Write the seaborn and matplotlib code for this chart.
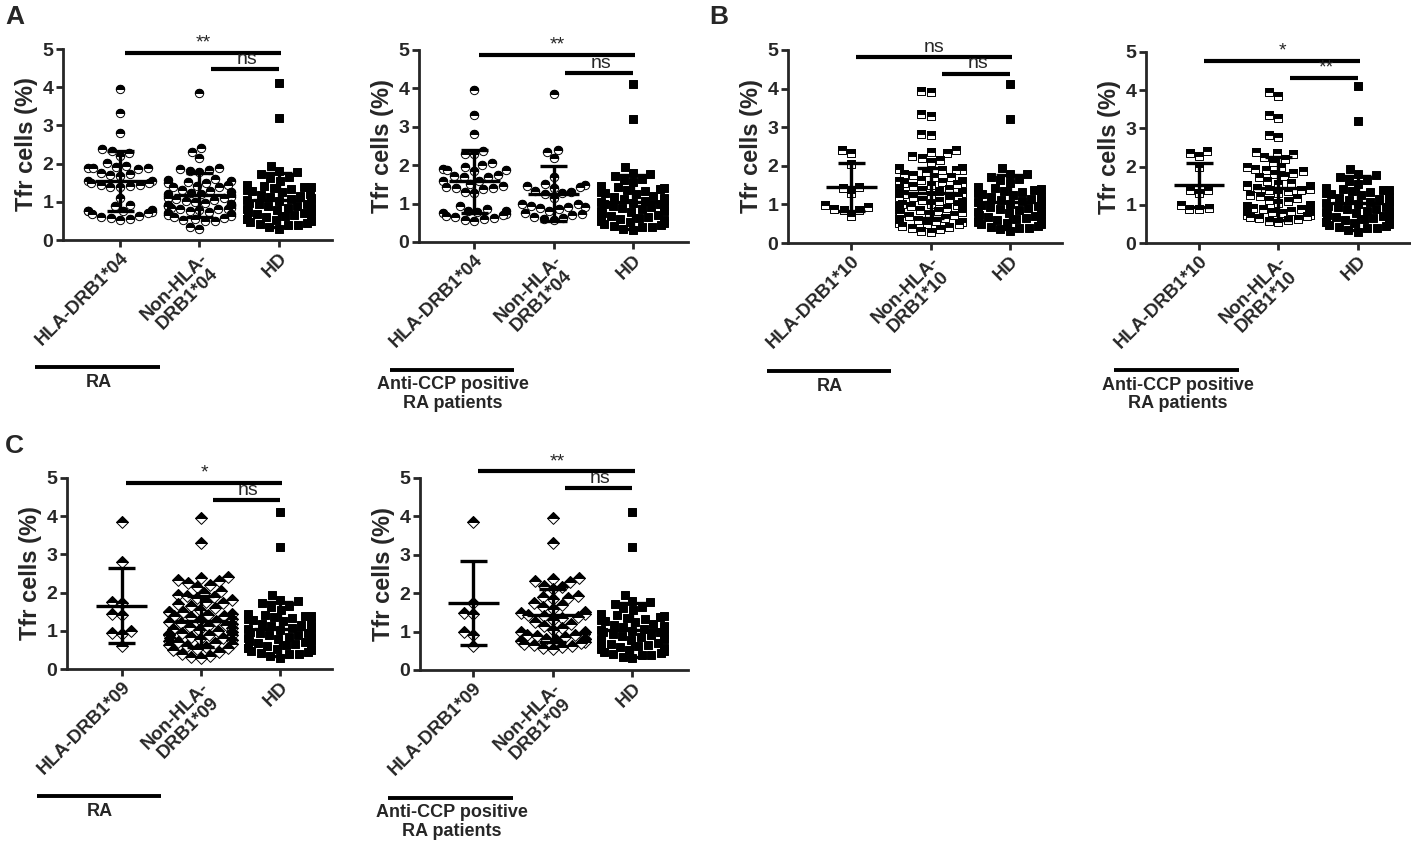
import warnings
import numpy as np
import pandas as pd
import matplotlib.pyplot as plt
from matplotlib.markers import MarkerStyle
import seaborn as sns

warnings.filterwarnings("ignore")

sns.set_style("ticks")
plt.rcParams['font.family'] = ['Liberation Sans', 'DejaVu Sans']

# healthy donors (same group in every panel)
hd = [4.12, 3.2, 1.95, 1.8, 1.78, 1.72, 1.65, 1.62, 1.55, 1.45, 1.42, 1.4, 1.38, 1.36,
      1.33, 1.3, 1.28, 1.25, 1.2, 1.18, 1.15, 1.12, 1.1, 1.08, 1.05, 1.02, 1.0, 0.98,
      0.95, 0.93, 0.9, 0.88, 0.85, 0.82, 0.8, 0.78, 0.75, 0.72, 0.7, 0.68, 0.65, 0.62,
      0.6, 0.58, 0.56, 0.55, 0.53, 0.5, 0.48, 0.45, 0.42, 0.4, 0.38, 0.35, 0.3]

# A: HLA-DRB1*04
ra_04 = [3.95, 3.32, 2.8, 2.38, 2.32, 2.28, 2.2, 2.02, 1.95, 1.9, 1.88, 1.88, 1.85, 1.88,
         1.75, 1.72, 1.7, 1.68, 1.55, 1.55, 1.5, 1.48, 1.45, 1.45, 1.42, 1.4, 1.4, 1.1,
         0.92, 0.88, 0.78, 0.76, 0.75, 0.75, 0.72, 0.7, 0.68, 0.62, 0.6, 0.58, 0.55, 0.52]
ra_non04 = [3.85, 2.4, 2.3, 2.15, 1.88, 1.85, 1.82, 1.8, 1.78, 1.6, 1.58, 1.55, 1.52, 1.5,
            1.48, 1.45, 1.42, 1.4, 1.38, 1.3, 1.28, 1.25, 1.22, 1.2, 1.2, 1.18, 1.15, 1.12,
            1.1, 1.1, 1.08, 1.05, 1.02, 1.0, 0.98, 0.95, 0.92, 0.92, 0.9, 0.9, 0.88, 0.85,
            0.85, 0.82, 0.8, 0.8, 0.78, 0.75, 0.72, 0.7, 0.68, 0.65, 0.62, 0.6, 0.58, 0.55,
            0.52, 0.5, 0.5, 0.35, 0.3]
ccp_04 = [3.95, 3.3, 2.8, 2.38, 2.3, 2.28, 2.05, 2.0, 1.95, 1.9, 1.88, 1.88, 1.85, 1.75,
          1.72, 1.7, 1.68, 1.6, 1.58, 1.5, 1.45, 1.42, 1.4, 1.4, 1.38, 1.3, 1.28, 0.95,
          0.85, 0.82, 0.8, 0.78, 0.75, 0.72, 0.7, 0.68, 0.65, 0.62, 0.6, 0.58, 0.55]
ccp_non04 = [3.85, 2.4, 2.35, 2.18, 1.7, 1.5, 1.48, 1.45, 1.42, 1.4, 1.32, 1.3, 1.28, 1.25,
             1.15, 1.0, 0.98, 0.95, 0.92, 0.9, 0.88, 0.85, 0.8, 0.75, 0.72, 0.7, 0.65,
             0.62, 0.6, 0.58]

# B: HLA-DRB1*10
ra_10 = [2.4, 2.33, 2.05, 1.45, 1.42, 1.3, 0.98, 0.92, 0.88, 0.85, 0.85, 0.7]
ra_non10 = [3.95, 3.9, 3.35, 3.3, 2.82, 2.8, 2.4, 2.35, 2.32, 2.25, 2.2, 2.15, 2.1,
            1.95, 1.95, 1.92, 1.9, 1.9, 1.88, 1.85, 1.8, 1.75, 1.72, 1.7,
            1.62, 1.6, 1.6, 1.58, 1.55, 1.55, 1.52, 1.5, 1.48,
            1.42, 1.4, 1.38, 1.35, 1.32, 1.3, 1.3, 1.28, 1.25, 1.22, 1.2, 1.18, 1.15,
            1.12, 1.1, 1.05, 1.02, 1.0, 1.0, 0.98, 0.96, 0.95, 0.93, 0.92, 0.9, 0.9,
            0.88, 0.86, 0.85, 0.82, 0.8, 0.8, 0.78, 0.75, 0.72, 0.7,
            0.65, 0.62, 0.6, 0.58, 0.55, 0.52, 0.5, 0.48, 0.45, 0.42, 0.38, 0.35, 0.3, 0.28]
ccp_10 = [2.42, 2.35, 2.28, 2.0, 1.4, 1.38, 1.3, 1.0, 0.92, 0.88, 0.88]
ccp_non10 = [3.95, 3.85, 3.35, 3.28, 2.82, 2.78, 2.38, 2.35, 2.32, 2.25, 2.2, 2.12, 2.0,
             1.98, 1.95, 1.9, 1.88, 1.82, 1.8, 1.75, 1.72, 1.62, 1.58, 1.55, 1.52, 1.5,
             1.5, 1.48, 1.45, 1.42, 1.4, 1.38, 1.35, 1.3, 1.25, 1.22, 1.18, 1.12, 1.1,
             1.05, 1.0, 0.98, 0.95, 0.92, 0.9, 0.88, 0.86, 0.85, 0.84, 0.82, 0.8, 0.8,
             0.78, 0.76, 0.75, 0.74, 0.72, 0.7, 0.68, 0.65, 0.62, 0.6, 0.58, 0.55]

# C: HLA-DRB1*09
ra_09 = [3.85, 2.8, 1.75, 1.72, 1.45, 1.42, 1.0, 0.95, 0.92, 0.6]
ra_non09 = [3.95, 3.3, 2.4, 2.38, 2.32, 2.3, 2.25, 2.2, 2.15, 2.05, 2.0, 1.95, 1.9, 1.88,
            1.85, 1.8, 1.75, 1.72, 1.7, 1.65, 1.6, 1.55, 1.5, 1.5, 1.48, 1.45, 1.42, 1.4,
            1.38, 1.35, 1.3, 1.28, 1.25, 1.22, 1.2, 1.18, 1.15, 1.12, 1.1, 1.08, 1.05,
            1.02, 1.0, 0.98, 0.95, 0.92, 0.9, 0.9, 0.88, 0.85, 0.82, 0.8, 0.78, 0.75,
            0.72, 0.7, 0.68, 0.65, 0.62, 0.6, 0.58, 0.55, 0.52, 0.5, 0.45, 0.4, 0.35,
            0.32, 0.3]
ccp_09 = [3.85, 1.75, 1.48, 1.45, 0.98, 0.92, 0.62]
ccp_non09 = [3.95, 3.3, 2.4, 2.38, 2.32, 2.3, 2.2, 2.15, 2.1, 1.92, 1.9, 1.88, 1.85, 1.75,
             1.7, 1.65, 1.6, 1.5, 1.48, 1.45, 1.42, 1.4, 1.38, 1.35, 1.3, 1.25, 1.2,
             1.15, 1.1, 1.05, 1.0, 0.98, 0.95, 0.92, 0.9, 0.88, 0.85, 0.82, 0.8, 0.8,
             0.78, 0.76, 0.75, 0.72, 0.7, 0.68, 0.65, 0.62, 0.6, 0.58, 0.55]

# mean and SD
means_a_ra, sds_a_ra = [1.55, 1.18, 1.05], [0.78, 0.58, 0.70]
means_a_ccp, sds_a_ccp = [1.58, 1.26, 1.05], [0.82, 0.72, 0.70]
means_b_ra, sds_b_ra = [1.45, 1.30, 1.05], [0.62, 0.65, 0.70]
means_b_ccp, sds_b_ccp = [1.52, 1.43, 1.05], [0.58, 0.83, 0.70]
means_c_ra, sds_c_ra = [1.66, 1.25, 1.05], [0.99, 0.67, 0.70]
means_c_ccp, sds_c_ccp = [1.74, 1.42, 1.05], [1.09, 0.68, 0.70]

labels_04 = ["HLA-DRB1*04", "Non-HLA-\nDRB1*04", "HD"]
labels_10 = ["HLA-DRB1*10", "Non-HLA-\nDRB1*10", "HD"]
labels_09 = ["HLA-DRB1*09", "Non-HLA-\nDRB1*09", "HD"]

# significance: (top text, top y, second text, second y)
sig_a_ra = ("**", 4.90, "ns", 4.47)
sig_a_ccp = ("**", 4.87, "ns", 4.41)
sig_b_ra = ("ns", 4.82, "ns", 4.39)
sig_b_ccp = ("*", 4.77, "**", 4.33)
sig_c_ra = ("*", 4.87, "ns", 4.42)
sig_c_ccp = ("**", 5.17, "ns", 4.74)

W, H = 1411, 852
fig = plt.figure(figsize=(W / 100, H / 100), dpi=100)


def add_ax(x0, y0, x1, y1):
    return fig.add_axes([x0 / W, 1 - y1 / H, (x1 - x0) / W, (y1 - y0) / H])


def draw_panel(ax, g1, g2, labels, marker, means, sds, sig, group_text, xlim):
    df = pd.DataFrame({"group": [labels[0]] * len(g1) + [labels[1]] * len(g2),
                       "value": g1 + g2})
    df_hd = pd.DataFrame({"group": [labels[2]] * len(hd), "value": hd})
    kw = dict(x="group", y="value", order=labels, size=6, linewidth=0.7,
              edgecolor="black", ax=ax, zorder=3)
    sns.swarmplot(data=df, marker=marker, color="white", **kw)
    sns.swarmplot(data=df, marker=MarkerStyle(marker, fillstyle="top"),
                  color="black", **kw)
    sns.swarmplot(data=df_hd, marker="s", color="black", **kw)

    # mean +/- SD
    for i, (m, s) in enumerate(zip(means, sds)):
        ax.vlines(i, m - s, m + s, color="black", lw=2.4, zorder=6)
        ax.hlines(m, i - 0.32, i + 0.32, color="black", lw=2.4, zorder=6)
        ax.hlines([m - s, m + s], i - 0.17, i + 0.17, color="black", lw=2.4, zorder=6)

    t1, y1, t2, y2 = sig
    ax.plot([0.06, 2.03], [y1, y1], color="black", lw=3, clip_on=False,
            solid_capstyle="butt")
    ax.text(1.05, y1 + 0.03, t1, ha="center", va="bottom", fontsize=14)
    ax.plot([1.15, 2.0], [y2, y2], color="black", lw=3, clip_on=False,
            solid_capstyle="butt")
    ax.text(1.6, y2 + 0.03, t2, ha="center", va="bottom", fontsize=14)

    ax.set_xlim(*xlim)
    ax.set_ylim(0, 5)
    ax.set_yticks(range(6))
    ax.set_yticklabels([str(v) for v in range(6)], fontweight="bold", fontsize=14)
    ax.set_xticks(range(3))
    ax.set_xticklabels(labels, rotation=45, ha="right", va="top",
                       rotation_mode="anchor", multialignment="center",
                       fontweight="bold", fontsize=13.5, linespacing=1.05)
    ax.set_xlabel("")
    ax.set_ylabel("Tfr cells (%)", fontweight="bold", fontsize=17, labelpad=3)
    sns.despine(ax=ax)
    for sp in ("left", "bottom"):
        ax.spines[sp].set_linewidth(2)
    ax.tick_params(width=2, length=5, direction="out", pad=2)

    trans = ax.get_xaxis_transform()
    ax.plot([-1.07, 0.5], [-0.665, -0.665], transform=trans, color="black",
            lw=2.8, clip_on=False, solid_capstyle="butt")
    ax.text(-0.27, -0.7, group_text, transform=trans, ha="center", va="top",
            fontweight="bold", fontsize=13, linespacing=1.1)


ra_txt = "RA"
ccp_txt = "Anti-CCP positive\nRA patients"

draw_panel(add_ax(63, 49, 332, 240), ra_04, ra_non04, labels_04, "o",
           means_a_ra, sds_a_ra, sig_a_ra, ra_txt, (-0.72, 2.67))
draw_panel(add_ax(419, 50, 688, 242), ccp_04, ccp_non04, labels_04, "o",
           means_a_ccp, sds_a_ccp, sig_a_ccp, ccp_txt, (-0.70, 2.70))
draw_panel(add_ax(788, 50, 1062, 243), ra_10, ra_non10, labels_10, "s",
           means_b_ra, sds_b_ra, sig_b_ra, ra_txt, (-0.80, 2.66))
draw_panel(add_ax(1146, 52, 1410, 243), ccp_10, ccp_non10, labels_10, "s",
           means_b_ccp, sds_b_ccp, sig_b_ccp, ccp_txt, (-0.67, 2.66))
draw_panel(add_ax(67, 478, 332, 669), ra_09, ra_non09, labels_09, "D",
           means_c_ra, sds_c_ra, sig_c_ra, ra_txt, (-0.69, 2.66))
draw_panel(add_ax(420, 478, 688, 670), ccp_09, ccp_non09, labels_09, "D",
           means_c_ccp, sds_c_ccp, sig_c_ccp, ccp_txt, (-0.67, 2.70))

for letter, x, y in [("A", 5, 5), ("B", 709, 5), ("C", 5, 434)]:
    fig.text(x / W, 1 - y / H, letter, ha="left", va="top", fontsize=19,
             fontweight="bold")

fig.savefig("out.png", dpi=100)
